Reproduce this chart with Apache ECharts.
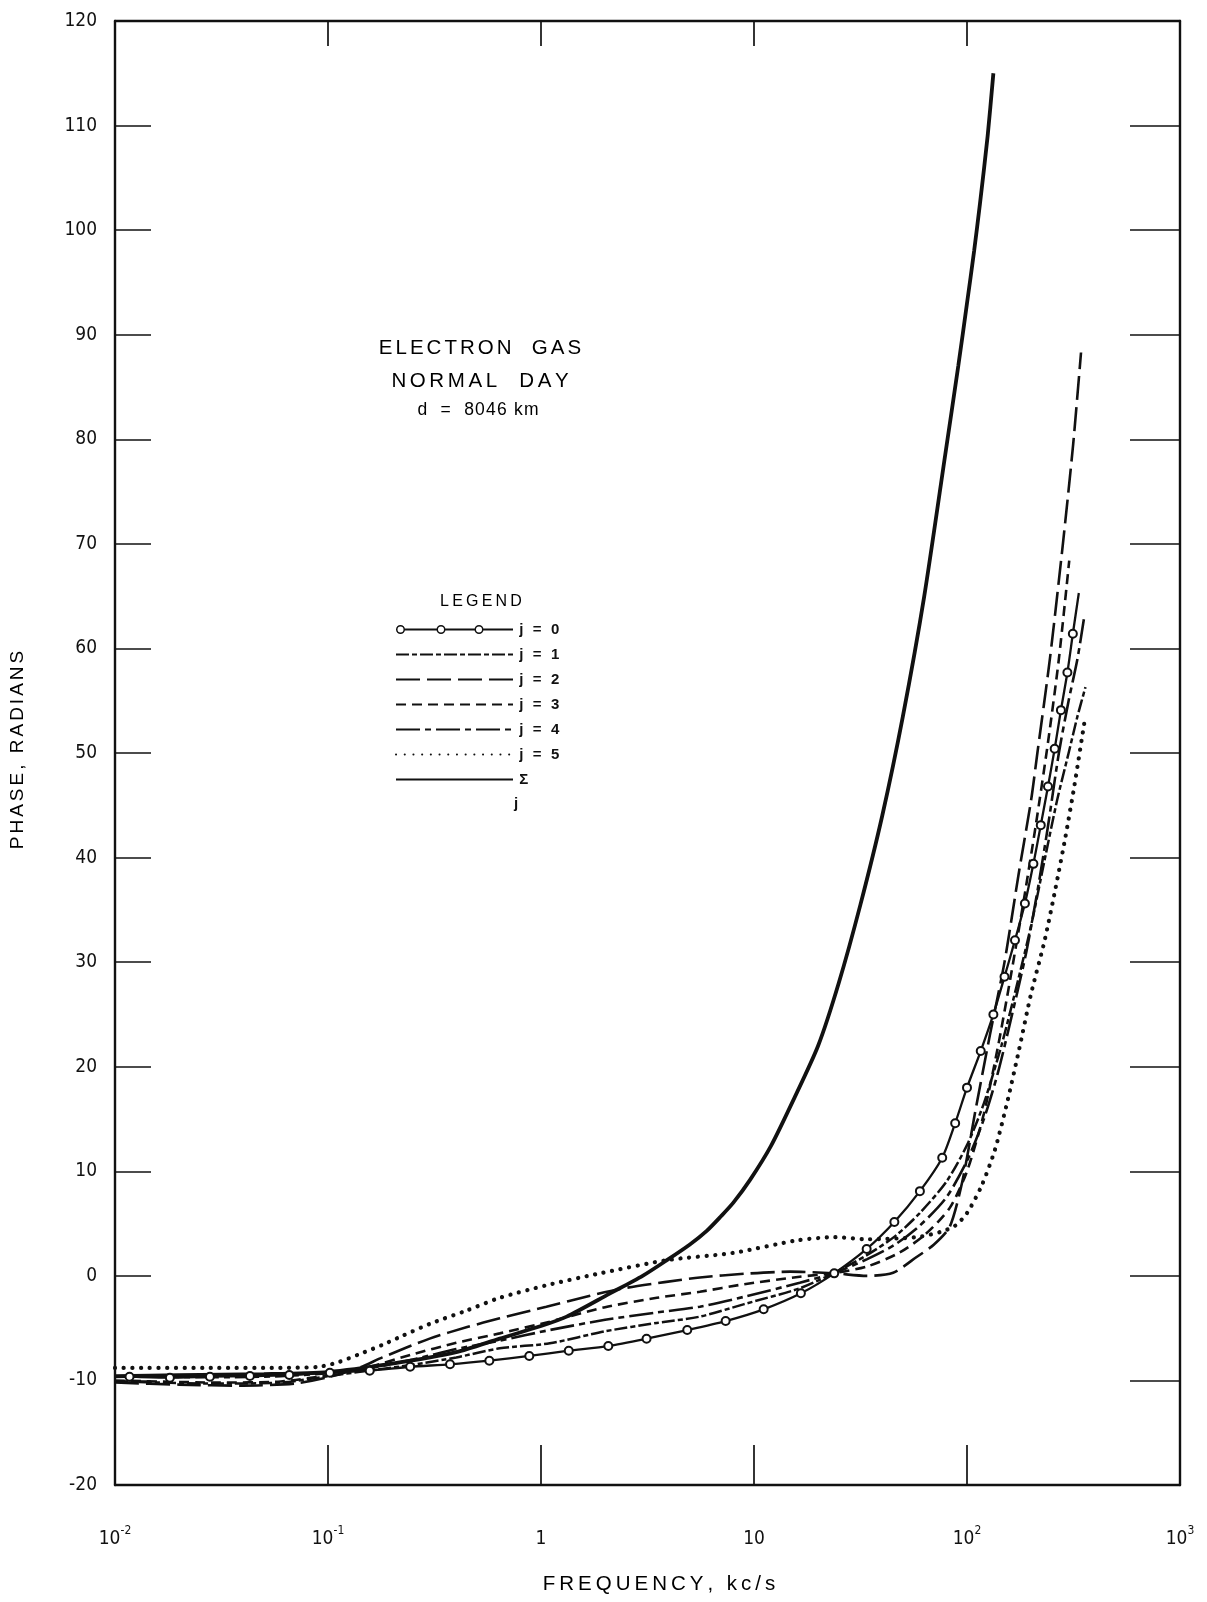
<!DOCTYPE html>
<html>
<head>
<meta charset="utf-8">
<script src="https://cdn.jsdelivr.net/npm/echarts@6/dist/echarts.min.js"></script>
<style>
  html, body { margin: 0; padding: 0; background: #fff; }
  #chart { width: 1207px; height: 1602px; }
</style>
</head>
<body>
<div id="chart"></div>
<script>
// Frequency decades (kc/s) and their labels: base + superscript
const decadeExponents = [-2, -1, 0, 1, 2, 3];
const decadeLabels = [['10', '-2'], ['10', '-1'], ['1', ''], ['10', ''], ['10', '2'], ['10', '3']];

// Phase axis (radians)
const phaseMin = -20;
const phaseMax = 120;
const phaseStep = 10;

// Phase vs frequency for each mode j, and the sum over modes
// j = 0 : the plotted circles are the data points (end points carry no circle)
const modeJ0 = [
  [0.01, -9.6], [0.0117, -9.64], [0.0181, -9.74], [0.0279, -9.64], [0.043, -9.58], [0.0658, -9.48],
  [0.102, -9.26], [0.157, -9.07], [0.243, -8.69], [0.374, -8.46], [0.572, -8.11], [0.881, -7.66],
  [1.35, -7.16], [2.07, -6.71], [3.13, -6.01], [4.86, -5.18], [7.36, -4.32], [11.1, -3.2],
  [16.6, -1.67], [23.8, 0.24], [33.8, 2.57], [45.6, 5.15], [60.1, 8.1], [76.5, 11.3],
  [88, 14.6], [100, 18.0], [116, 21.5], [133, 25.0], [150, 28.6], [168, 32.1], [187, 35.6],
  [205, 39.4], [222, 43.1], [240, 46.8], [258, 50.4], [276, 54.1], [296, 57.7], [314, 61.4],
  [335, 65.3]
];
const modeJ1 = [
  [0.01, -10.1], [0.03, -10.3], [0.06, -10.2], [0.1, -9.6], [0.15, -9.1], [0.25, -8.5], [0.4, -7.8],
  [0.64, -6.93], [1.1, -6.45], [2.0, -5.3], [3.5, -4.5], [5.57, -3.9], [9, -2.7], [16.4, -1.19],
  [23.6, 0.25], [34, 2.0], [46, 3.8], [60, 6.0], [80, 9.0], [100, 12.5], [120, 16.5], [145, 22],
  [170, 27.5], [200, 33.5], [230, 39.5], [265, 45.5], [300, 50], [330, 53.5], [360, 56.3]
];
const modeJ2 = [
  [0.01, -10.2], [0.02, -10.4], [0.04, -10.5], [0.07, -10.3], [0.1, -9.7], [0.14, -8.8], [0.18, -7.8],
  [0.3, -6.0], [0.45, -4.9], [0.64, -4.06], [1.06, -2.95], [1.7, -1.9], [2.44, -1.19], [3.8, -0.6],
  [5.57, -0.15], [9, 0.2], [14.8, 0.4], [23.6, 0.25], [33.8, 0.0], [45, 0.3], [58, 1.8], [70, 3.0],
  [83, 4.7], [95, 9], [110, 16], [128, 23], [150, 30], [175, 38.5], [200, 45.5], [214, 50],
  [245, 59], [282, 70], [315, 79.5], [343, 88.3]
];
const modeJ3 = [
  [0.01, -10.0], [0.03, -10.2], [0.06, -10.1], [0.1, -9.5], [0.15, -8.8], [0.25, -7.5], [0.4, -6.4],
  [0.64, -5.5], [1.1, -4.38], [2.0, -3.0], [3.5, -2.1], [5.57, -1.52], [9, -0.8], [16.4, -0.08],
  [23.6, 0.25], [34, 0.9], [48, 2.2], [64, 4.0], [83, 6.5], [100, 10], [120, 15.5], [140, 22],
  [160, 28.5], [185, 36], [210, 43], [240, 51], [270, 59], [302, 68.4]
];
const modeJ4 = [
  [0.01, -9.6], [0.03, -9.7], [0.06, -9.6], [0.1, -9.3], [0.15, -8.9], [0.25, -8.0], [0.4, -7.0],
  [0.64, -6.2], [1.1, -5.18], [2.0, -4.2], [3.5, -3.5], [5.57, -2.95], [9, -2.0], [16.4, -0.65],
  [23.6, 0.25], [34, 1.6], [46, 3.0], [60, 4.8], [80, 7.5], [100, 11], [120, 15], [140, 19.5],
  [165, 25.5], [190, 31], [215, 37], [240, 43], [270, 50], [300, 55], [330, 59], [355, 63]
];
const modeJ5 = [
  [0.01, -8.8], [0.03, -8.8], [0.06, -8.8], [0.09, -8.7], [0.11, -8.3], [0.14, -7.5], [0.18, -6.6],
  [0.22, -5.8], [0.3, -4.6], [0.45, -3.3], [0.64, -2.1], [1.06, -0.9], [1.9, 0.25], [3.9, 1.5],
  [8, 2.2], [16, 3.4], [24, 3.7], [34, 3.5], [58, 3.7], [75, 4.2], [88, 4.8], [100, 6], [117, 8.6],
  [135, 12], [154, 16.5], [175, 21.5], [200, 27], [231, 32], [260, 37], [290, 42], [320, 47], [360, 53.6]
];
const sumOverModes = [
  [0.01, -9.6], [0.02, -9.5], [0.05, -9.4], [0.1, -9.2], [0.2, -8.4], [0.4, -7.3], [0.64, -6.0],
  [1.0, -4.8], [1.32, -3.9], [2.1, -1.7], [3.0, 0.0], [3.9, 1.5], [5.0, 3.0], [6.0, 4.3], [7.0, 5.7],
  [8.0, 7.0], [9.6, 9.2], [12, 12.4], [15.3, 16.8], [20, 22], [25, 28], [31.6, 35.5], [40, 44],
  [50, 53.5], [63, 65], [79, 78.5], [91, 87], [100, 93], [108, 98], [115, 102.5], [125, 109], [133, 115]
];

const seriesNames = ['j = 0', 'j = 1', 'j = 2', 'j = 3', 'j = 4', 'j = 5', 'Σ'];

const INK = '#111';
const FONT = '"Liberation Sans", "DejaVu Sans", Arial, sans-serif';
const NARROW = '"Liberation Sans Narrow", "DejaVu Sans Condensed", "Liberation Sans", sans-serif';

// Legend key for j = 0: a line broken by three hollow circles (117 x 9 box)
function ring(cx, cy, r0, r1) {
  return 'M' + (cx - r0) + ' ' + cy + 'A' + r0 + ' ' + r0 + ' 0 1 1 ' + (cx + r0) + ' ' + cy +
    'A' + r0 + ' ' + r0 + ' 0 1 1 ' + (cx - r0) + ' ' + cy + 'Z' +
    'M' + (cx - r1) + ' ' + cy + 'A' + r1 + ' ' + r1 + ' 0 1 0 ' + (cx + r1) + ' ' + cy +
    'A' + r1 + ' ' + r1 + ' 0 1 0 ' + (cx - r1) + ' ' + cy + 'Z';
}
function bar(x0, x1) {
  return 'M' + x0 + ' 3.5H' + x1 + 'V5.5H' + x0 + 'Z';
}
const circleKeyIcon = 'path://' + ring(4.5, 4.5, 4.5, 3.0) + ring(45, 4.5, 4.5, 3.0) + ring(83, 4.5, 4.5, 3.0) +
  bar(8, 41.5) + bar(48.5, 79.5) + bar(86.5, 117);

// Wide plotter-style lettering: one rich token per character
function spaced(text, style) {
  return text.split('').map(ch => '{' + style + '|' + ch + '}').join('');
}

function decadeLabel(value) {
  const e = Math.round(Math.log10(value));
  const i = decadeExponents.indexOf(e);
  if (i < 0) return '';
  const [base, sup] = decadeLabels[i];
  return sup ? '{b|' + base + '}{s|' + sup + '}' : '{b|' + base + '}';
}

function modeSeries(name, data, type, width, extra) {
  return Object.assign({
    name: name,
    type: 'line',
    xAxisIndex: 0,
    yAxisIndex: 0,
    data: data,
    showSymbol: false,
    symbol: 'none',
    smooth: 0.25,
    lineStyle: { color: INK, width: width, type: type, cap: 'butt' },
    itemStyle: { color: INK },
    z: 3
  }, extra || {});
}

const chart = echarts.init(document.getElementById('chart'), null, { renderer: 'canvas' });

const option = {
  backgroundColor: '#fff',
  animation: false,
  grid: { left: 115, right: 27, top: 21, bottom: 117, containLabel: false },
  xAxis: [
    {
      type: 'log', logBase: 10, min: 0.01, max: 1000, position: 'bottom',
      axisLine: { show: true, onZero: false, lineStyle: { color: INK, width: 2.4 } },
      axisTick: { show: true, inside: true, length: 40, lineStyle: { color: INK, width: 1.7 } },
      minorTick: { show: false },
      splitLine: { show: false },
      axisLabel: {
        margin: 40,
        formatter: decadeLabel,
        rich: {
          b: { fontFamily: NARROW, fontSize: 19, color: INK, lineHeight: 24, verticalAlign: 'bottom' },
          s: { fontFamily: NARROW, fontSize: 12, color: INK, lineHeight: 12, verticalAlign: 'top' }
        }
      }
    },
    {
      type: 'log', logBase: 10, min: 0.01, max: 1000, position: 'top',
      axisLine: { show: true, onZero: false, lineStyle: { color: INK, width: 2.4 } },
      axisTick: { show: true, inside: true, length: 25, lineStyle: { color: INK, width: 1.7 } },
      splitLine: { show: false },
      axisLabel: { show: false }
    }
  ],
  yAxis: [
    {
      type: 'value', min: phaseMin, max: phaseMax, interval: phaseStep, position: 'left',
      axisLine: { show: true, onZero: false, lineStyle: { color: INK, width: 2.4 } },
      axisTick: { show: true, inside: true, length: 36, lineStyle: { color: INK, width: 1.7 } },
      splitLine: { show: false },
      axisLabel: { margin: 18, color: INK, fontFamily: NARROW, fontSize: 19 }
    },
    {
      type: 'value', min: phaseMin, max: phaseMax, interval: phaseStep, position: 'right',
      axisLine: { show: true, onZero: false, lineStyle: { color: INK, width: 2.4 } },
      axisTick: { show: true, inside: true, length: 50, lineStyle: { color: INK, width: 1.7 } },
      splitLine: { show: false },
      axisLabel: { show: false }
    }
  ],
  legend: {
    data: seriesNames.map((name, i) => i === 0
      ? { name: name, icon: circleKeyIcon, itemStyle: { color: INK, borderWidth: 0 } }
      : { name: name, itemStyle: { opacity: 0 } }),
    orient: 'vertical',
    left: 395,
    top: 622,
    padding: 0,
    itemWidth: 117,
    itemHeight: 9,
    itemGap: 10,
    selectedMode: false,
    formatter: name => spaced(name, 't'),
    textStyle: {
      rich: {
        t: { fontFamily: FONT, fontSize: 15, fontWeight: 'bold', color: INK, padding: [0, 1.3, 0, 1.3], lineHeight: 16 }
      }
    }
  },
  graphic: [
    {
      type: 'text', x: 480, y: 348,
      style: { text: spaced('ELECTRON  GAS', 'h'), align: 'center', verticalAlign: 'middle',
        rich: { h: { fontFamily: FONT, fontSize: 20.5, color: INK, padding: [0, 1.5, 0, 1.5] } } }
    },
    {
      type: 'text', x: 480, y: 381,
      style: { text: spaced('NORMAL  DAY', 'h'), align: 'center', verticalAlign: 'middle',
        rich: { h: { fontFamily: FONT, fontSize: 20.5, color: INK, padding: [0, 1.8, 0, 1.8] } } }
    },
    {
      type: 'text', x: 478, y: 410,
      style: { text: spaced('d  =  8046 km', 'h'), align: 'center', verticalAlign: 'middle',
        rich: { h: { fontFamily: FONT, fontSize: 17.5, color: INK, padding: [0, 0.6, 0, 0.6] } } }
    },
    {
      type: 'text', x: 481, y: 602,
      style: { text: spaced('LEGEND', 'h'), align: 'center', verticalAlign: 'middle',
        rich: { h: { fontFamily: FONT, fontSize: 16, color: INK, padding: [0, 1.6, 0, 1.6] } } }
    },
    {
      type: 'text', x: 516, y: 804,
      style: { text: 'j', align: 'center', verticalAlign: 'middle', font: 'bold 15px ' + FONT, fill: INK }
    },
    {
      type: 'text', x: 18, y: 750, rotation: Math.PI / 2,
      style: { text: spaced('PHASE, RADIANS', 'h'), align: 'center', verticalAlign: 'middle',
        rich: { h: { fontFamily: FONT, fontSize: 19, color: INK, padding: [0, 1.5, 0, 1.5] } } }
    },
    {
      type: 'text', x: 659, y: 1584,
      style: { text: spaced('FREQUENCY, kc/s', 'h'), align: 'center', verticalAlign: 'middle',
        rich: { h: { fontFamily: FONT, fontSize: 20.5, color: INK, padding: [0, 2.0, 0, 2.0] } } }
    }
  ],
  series: [
    modeSeries('j = 0', modeJ0.map((p, i) => (i === 0 || i === modeJ0.length - 1) ? { value: p, symbol: 'none' } : p),
      'solid', 2.3, {
        showSymbol: true, symbol: 'emptyCircle', symbolSize: 8,
        itemStyle: { color: INK, borderColor: INK, borderWidth: 1.7 }, z: 4
      }),
    modeSeries('j = 1', modeJ1, [13, 3, 5, 3], 2.5),
    modeSeries('j = 2', modeJ2, [24, 7], 2.6),
    modeSeries('j = 3', modeJ3, [10, 6], 2.6),
    modeSeries('j = 4', modeJ4, [24, 5, 6, 5], 2.6),
    modeSeries('j = 5', modeJ5, [0.1, 8.6], 4.2, {
      lineStyle: { color: INK, width: 4.2, type: [0.1, 8.6], cap: 'round' }
    }),
    modeSeries('Σ', sumOverModes, 'solid', 3.8)
  ]
};

chart.setOption(option);
</script>
</body>
</html>
